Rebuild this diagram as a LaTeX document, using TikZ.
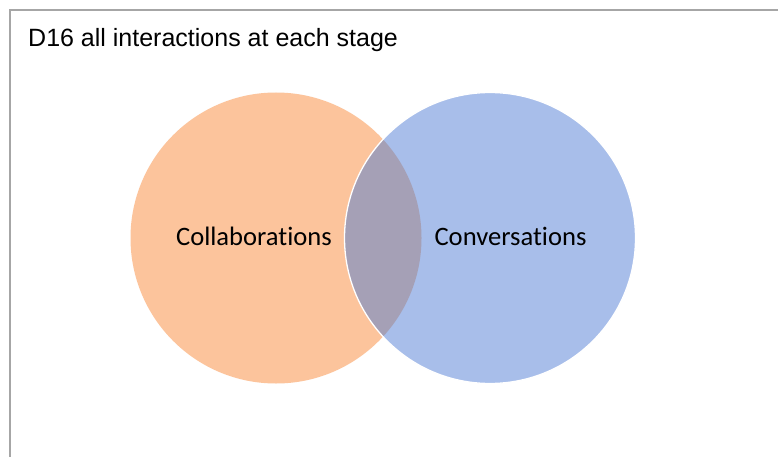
\documentclass[tikz,border=0pt]{standalone}
\usepackage{fontspec}
\setmainfont{Liberation Sans}
\newfontfamily\labelfont[Ligatures={NoCommon}]{Carlito}
\definecolor{frameg}{RGB}{166,166,166}
\definecolor{orangefill}{RGB}{252,196,156}
\definecolor{bluefill}{RGB}{168,190,234}
\definecolor{overlapfill}{RGB}{165,160,182}
\tikzset{
  setcircle/.style={circle, minimum size=291pt, inner sep=0pt, draw=none},
  setlabel/.style={font=\labelfont\fontsize{26.6}{30}\selectfont, text=black, inner sep=0pt, anchor=base},
  titletext/.style={font=\fontsize{25}{30}\selectfont, text=black, inner sep=0pt, anchor=base west},
  framestyle/.style={draw=frameg, line width=2pt}
}
\begin{document}
\begin{tikzpicture}[x=1pt,y=-1pt]
\useasboundingbox (0,0) rectangle (778,457);
\fill[white] (0,0) rectangle (778,457);
\coordinate (ftop) at (778,10);
\coordinate (fcorner) at (10,10);
\coordinate (fbot) at (10,457);
\draw[framestyle] (ftop) -- (fcorner) -- (fbot);
\node[titletext] (title) at (28,47) {D16 all interactions at each stage};
\node[setcircle, fill=orangefill] (L) at (276,238) {};
\node[setcircle, fill=bluefill] (R) at (490,238) {};
\begin{scope}
  \clip (276,238) circle (145.5);
  \fill[overlapfill] (490,238) circle (145.5);
\end{scope}
\draw[white, line width=1.3pt] (490,238) circle (145.5);
\node[setlabel] (collab) at (254,245) {Collaborations};
\node[setlabel] (conv) at (510.5,245) {Conversations};
\end{tikzpicture}
\end{document}
